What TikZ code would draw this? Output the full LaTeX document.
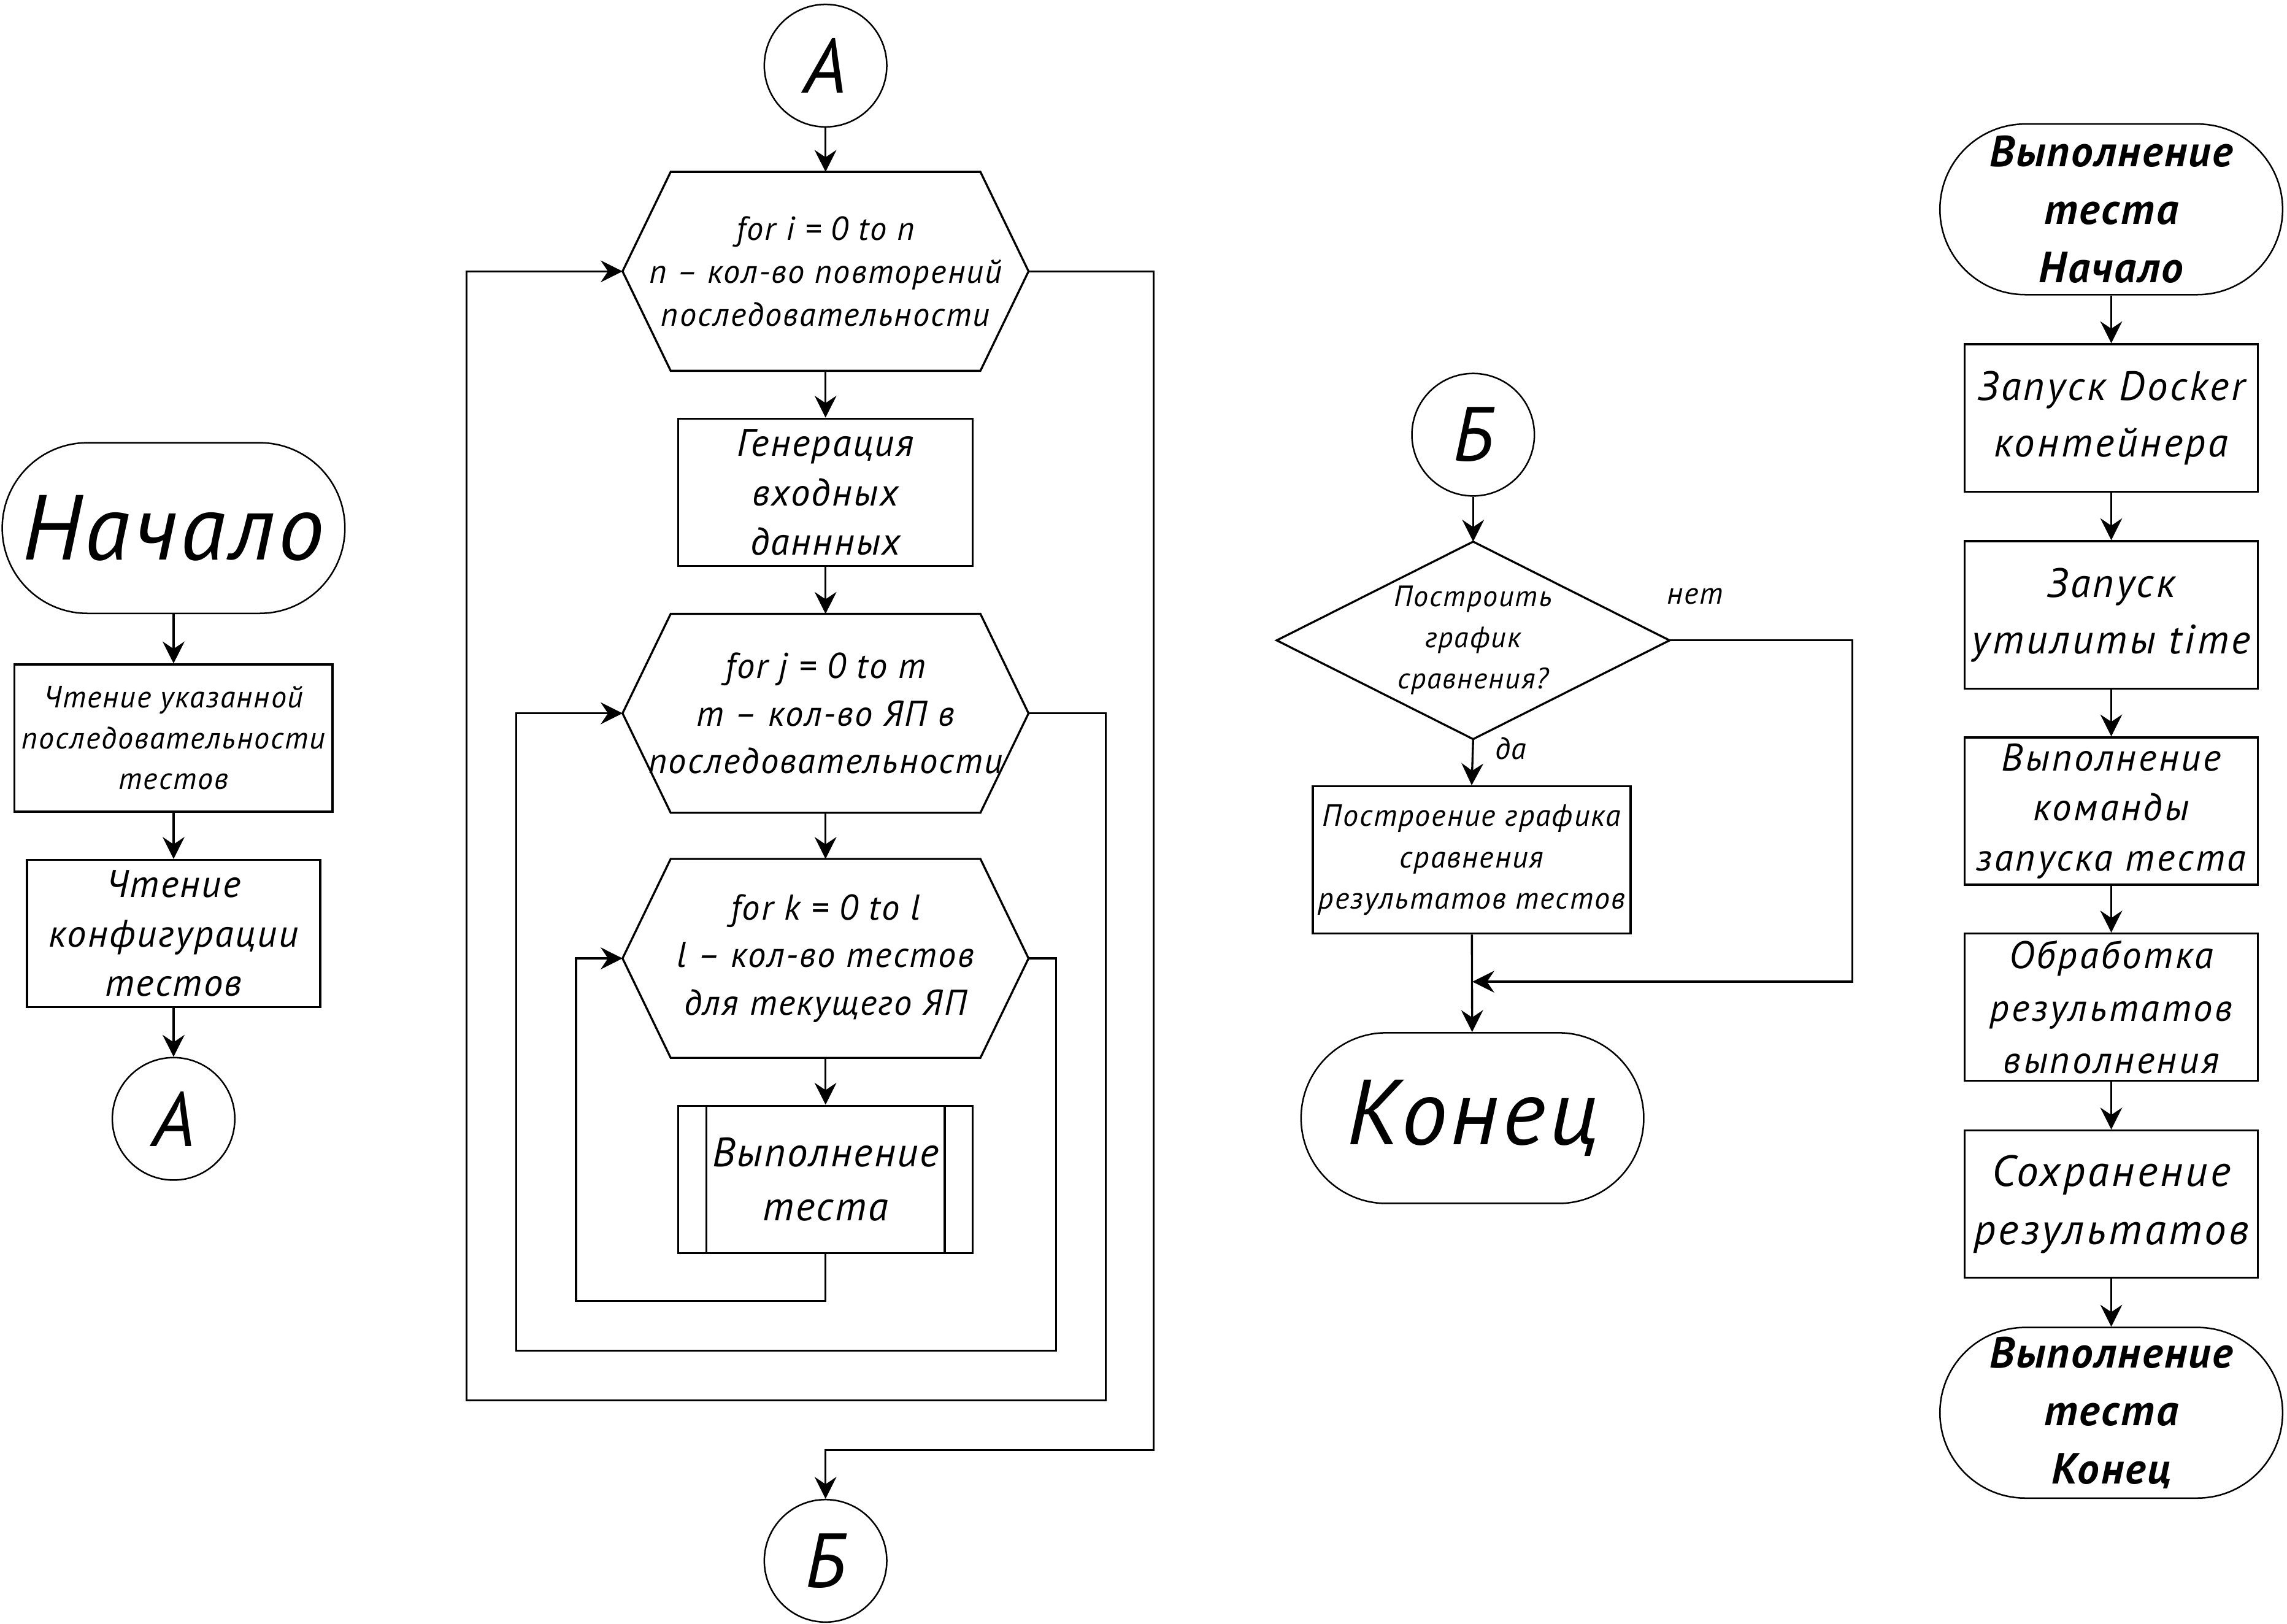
\documentclass[tikz,border=0pt]{standalone}
\usepackage{fontspec}
\newfontfamily\gost[LetterSpace=4]{PT Sans}
\usepackage{tikz}
\usetikzlibrary{arrows.meta}

\begin{document}
\begin{tikzpicture}[x=0.02cm,y=-0.02cm,line width=0.8pt,
    >={Stealth[length=0.3cm,width=0.3cm,inset=0.1cm]},
    every node/.style={align=center,inner sep=0pt},
    procbox/.style={draw,minimum width=#1,minimum height=2.02cm},
    termbox/.style={draw,line width=0.6pt,rounded corners=1.17cm,%
      minimum width=4.7cm,minimum height=2.34cm},
    joint/.style={draw,line width=0.6pt,circle,minimum size=1.68cm,%
      font=\gost\itshape\fontsize{30}{30}\selectfont},
    hexbox/.style={minimum width=5.54cm,minimum height=2.7cm}]
          \useasboundingbox (0,0) rectangle (1568,1113);
          % main: start
          \node[termbox,font=\gost\itshape\fontsize{36}{40}\selectfont] %
            (start) at (119,362) {Начало};
          \node[procbox=4.36cm,font=\gost\itshape\fontsize{12}{15.9}\selectfont] %
            (read1) at (119,506) {Чтение указанной\\последовательности\\тестов};
          \node[procbox=4.02cm,font=\gost\itshape\fontsize{15}{19.3}\selectfont] %
            (read2) at (119,640) {Чтение\\конфигурации\\тестов};
          \node[joint] (A1) at (119,767) {А};
          \foreach \a/\b in {start/read1,read1/read2,read2/A1}
            \draw[->] (\a) -- (\b);

          % loops
          \node[joint] (A2) at (566,45) {А};
          \node[hexbox,font=\gost\itshape\fontsize{13}{16.8}\selectfont] %
            (loopI) at (566,186) {for i = 0 to n\\n – кол-во повторений\\последовательности};
          \node[procbox=4.04cm,font=\gost\itshape\fontsize{15}{19.3}\selectfont] %
            (gen) at (566,337.5) {Генерация\\входных\\даннных};
          \node[hexbox,font=\gost\itshape\fontsize{14}{18.5}\selectfont] %
            (loopJ) at (566,489) {for j = 0 to m\\m – кол-во ЯП в\\последовательности};
          \node[hexbox,font=\gost\itshape\fontsize{14}{18.5}\selectfont] %
            (loopK) at (566,657) {for k = 0 to l\\l – кол-во тестов\\для текущего ЯП};
          \node[procbox=4.04cm,font=\gost\itshape\fontsize{16}{21}\selectfont] %
            (run) at (566,808.5) {Выполнение\\теста};
          \node[joint] (B1) at (566,1070) {Б};
          \foreach \h in {loopI,loopJ,loopK}
            \draw ([xshift=0.66cm]\h.north west) -- ([xshift=-0.66cm]\h.north east) %
              -- (\h.east) -- ([xshift=-0.66cm]\h.south east) %
              -- ([xshift=0.66cm]\h.south west) -- (\h.west) -- cycle;
          \draw ([xshift=0.4cm]run.north west) -- ([xshift=0.4cm]run.south west);
          \draw ([xshift=-0.4cm]run.north east) -- ([xshift=-0.4cm]run.south east);
          \foreach \a/\b in {A2/loopI,loopI/gen,gen/loopJ,loopJ/loopK,loopK/run}
            \draw[->] (\a) -- (\b);
          \draw[->] (run.south) |- (395,892) |- (loopK.west);
          \draw[->] (loopK.east) -| (724,926) -| (354,489) -- (loopJ.west);
          \draw[->] (loopJ.east) -| (758,960) -| (320,186) -- (loopI.west);
          \draw[->] (loopI.east) -| (791,994) -| (B1);

          % plot
          \node[joint] (B2) at (1010,298) {Б};
          \node[minimum width=5.36cm,minimum height=2.68cm,%
            font=\gost\itshape\fontsize{11.5}{16}\selectfont] %
            (ask) at (1010,439) {Построить\\график\\сравнения?};
          \draw (ask.north) -- (ask.east) -- (ask.south) -- (ask.west) -- cycle;
          \node[procbox=4.36cm,font=\gost\itshape\fontsize{12}{16.2}\selectfont] %
            (plot) at (1009,589.5) {Построение графика\\сравнения\\результатов тестов};
          \node[termbox,font=\gost\itshape\fontsize{36}{40}\selectfont] %
            (stop) at (1009.5,766.5) {Конец};
          \coordinate (merge) at (1009.5,673);
          \draw[->] (B2) -- (ask);
          \draw[->] (ask.south) -- node[pos=0.2,right=0.29cm,%
            font=\gost\itshape\fontsize{12}{14}\selectfont] {да} (plot.north);
          \draw[->] (plot) -- (stop);
          \draw[->] (ask.east) -- node[pos=0.14,above=0.48cm,%
            font=\gost\itshape\fontsize{12}{14}\selectfont] {нет} (1270,439) |- (merge);

          % test run
          \node[termbox,font=\gost\bfseries\itshape\fontsize{17}{22.7}\selectfont] %
            (tStart) at (1447.5,143.5) {Выполнение\\теста\\Начало};
          \node[procbox=4.02cm,font=\gost\itshape\addfontfeature{LetterSpace=6}\fontsize{16}{22}\selectfont] %
            (docker) at (1447.5,286.5) {Запуск Docker\\контейнера};
          \node[procbox=4.02cm,font=\gost\itshape\addfontfeature{LetterSpace=6}\fontsize{16}{22}\selectfont] %
            (timeU) at (1447.5,421.5) {Запуск\\утилиты time};
          \node[procbox=4.02cm,font=\gost\itshape\addfontfeature{LetterSpace=6}\fontsize{15}{19.5}\selectfont] %
            (cmd) at (1447.5,556) {Выполнение\\команды\\запуска теста};
          \node[procbox=4.02cm,font=\gost\itshape\addfontfeature{LetterSpace=6}\fontsize{15}{20.5}\selectfont] %
            (parse) at (1447.5,690.5) {Обработка\\результатов\\выполнения};
          \node[procbox=4.02cm,font=\gost\itshape\addfontfeature{LetterSpace=6}\fontsize{17}{22.7}\selectfont] %
            (save) at (1447.5,825.5) {Сохранение\\результатов};
          \node[termbox,font=\gost\bfseries\itshape\fontsize{17}{22.7}\selectfont] %
            (tStop) at (1447.5,968.5) {Выполнение\\теста\\Конец};
          \foreach \a/\b in {tStart/docker,docker/timeU,timeU/cmd,cmd/parse,parse/save,save/tStop}
            \draw[->] (\a) -- (\b);
        \end{tikzpicture}
\end{document}
